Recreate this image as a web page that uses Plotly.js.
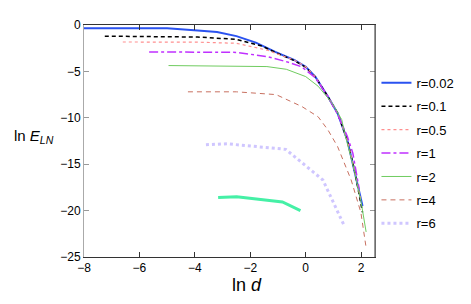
<!DOCTYPE html>
<html>
<head>
<meta charset="utf-8">
<script src="https://cdn.plot.ly/plotly-3.0.1.min.js"></script>
<style>html,body{margin:0;padding:0;background:#fff;}#chart{width:471px;height:304px;}</style>
</head>
<body>
<div id="chart"></div>
<script>
// r = 0.02
const x_r002 = [-8, -5, -3.9, -3.2, -2.5, -1.8, -1.1, -0.4, 0, 0.35, 0.8, 1.15, 1.5, 1.75, 2.05];
const y_r002 = [-0.35, -0.35, -0.6, -0.75, -1.2, -1.9, -2.9, -3.8, -4.5, -5.6, -7.7, -9.5, -12.4, -15.5, -19.5];
// r = 0.1
const x_r01 = [-7.25, -5, -3.9, -2.5, -1.55, -1.1, -0.4, 0, 0.35, 0.8, 1.15, 1.5, 1.75, 2.05];
const y_r01 = [-1.2, -1.25, -1.3, -1.55, -2.3, -2.95, -3.85, -4.55, -5.6, -7.7, -9.5, -12.4, -15.5, -20.2];
// r = 0.5
const x_r05 = [-6.6, -5, -3.9, -2.5, -1.4, -0.4, 0, 0.35, 0.8, 1.15, 1.5, 1.75, 2.0];
const y_r05 = [-1.83, -1.83, -1.85, -1.97, -2.7, -3.8, -4.5, -5.6, -7.7, -9.5, -12.4, -15.5, -19.0];
// r = 1
const x_r1 = [-5.65, -3.9, -2.5, -1.4, -0.7, -0.15, 0.35, 0.8, 1.15, 1.5, 1.7, 1.93];
const y_r1 = [-2.9, -2.9, -2.95, -3.4, -3.95, -4.5, -5.7, -7.7, -9.6, -12.0, -13.8, -17.7];
// r = 2
const x_r2 = [-4.95, -3.5, -2.5, -1.4, -0.7, 0, 0.45, 0.95, 1.3, 1.4, 1.75, 2.0, 2.18];
const y_r2 = [-4.37, -4.4, -4.4, -4.48, -4.77, -5.56, -6.6, -8.4, -10.2, -11.6, -15.6, -19.1, -22.3];
// r = 4
const x_r4 = [-4.25, -2.5, -1.07, -0.13, 0.45, 0.8, 1.15, 1.64, 1.99, 2.17];
const y_r4 = [-7.2, -7.2, -7.5, -8.8, -9.9, -11.3, -13.1, -16.7, -20.2, -23.8];
// r = 6
const x_r6 = [-3.6, -2.84, -0.72, 0.62, 1.4];
const y_r6 = [-12.9, -12.8, -13.4, -16.7, -21.7];
// unlabelled thick curve
const x_extra = [-3.16, -2.49, -0.84, -0.19];
const y_extra = [-18.6, -18.5, -19.07, -20.0];

const names = ['r=0.02', 'r=0.1', 'r=0.5', 'r=1', 'r=2', 'r=4', 'r=6'];

const traces = [
  {x: x_r002, y: y_r002, name: names[0], line: {color: '#2a52f0', width: 2, dash: 'solid'}},
  {x: x_r01, y: y_r01, name: names[1], line: {color: '#000000', width: 1.5, dash: '4px,3px'}},
  {x: x_r05, y: y_r05, name: names[2], line: {color: '#ff8f8f', width: 1.2, dash: 'dot'}},
  {x: x_r1, y: y_r1, name: names[3], line: {color: '#c030ff', width: 1.5, dash: 'dashdot'}},
  {x: x_r2, y: y_r2, name: names[4], line: {color: '#70cc60', width: 1, dash: 'solid'}},
  {x: x_r4, y: y_r4, name: names[5], line: {color: '#c87060', width: 1, dash: '5px,4px'}},
  {x: x_r6, y: y_r6, name: names[6], line: {color: '#cfc6ff', width: 3, dash: 'dot'}},
  {x: x_extra, y: y_extra, name: '', showlegend: false, line: {color: '#45f0a6', width: 3, dash: 'solid'}}
].map((t, i) => Object.assign({type: 'scatter', mode: 'lines', hoverinfo: 'skip', legendgroup: 'g' + i}, t));

const layout = {
  width: 471, height: 304,
  margin: {l: 84, r: 90, t: 25, b: 47},
  paper_bgcolor: '#fff', plot_bgcolor: '#fff',
  font: {family: 'Liberation Sans, Arial, sans-serif', size: 12, color: '#000'},
  showlegend: true,
  legend: {x: 1.005, y: 0.815, xanchor: 'left', yanchor: 'top', bgcolor: 'rgba(0,0,0,0)',
           font: {size: 13, color: '#000'}, itemwidth: 30, tracegroupgap: 3.5},
  xaxis: {range: [-8, 2.5], tickvals: [-8, -6, -4, -2, 0, 2], ticks: 'inside', ticklen: 5,
          tickcolor: '#333', showline: true, linecolor: '#333', linewidth: 1, mirror: 'ticks',
          showgrid: false, zeroline: false, tickfont: {size: 12}},
  yaxis: {range: [-25, 0], tickvals: [0, -5, -10, -15, -20, -25], ticks: 'inside', ticklen: 5,
          tickcolor: '#999', showline: true, linecolor: '#aaa', linewidth: 1, mirror: 'ticks',
          showgrid: false, zeroline: false, tickfont: {size: 12}, ticklabelstandoff: 0},
  shapes: [
    {type: 'line', xref: 'paper', yref: 'paper', x0: 1, x1: 1, y0: 0, y1: 1, line: {color: '#333', width: 1}}
  ],
  annotations: [
    {xref: 'paper', yref: 'paper', x: -0.095, y: 0.52, xanchor: 'right', yanchor: 'middle', showarrow: false,
     text: 'ln <i>E</i><sub><i>LN</i></sub>', font: {size: 15, color: '#000'}},
    {xref: 'paper', yref: 'paper', x: 0.56, y: -0.12, xanchor: 'center', yanchor: 'middle', showarrow: false,
     text: 'ln <i>d</i>', font: {size: 18, color: '#000'}}
  ]
};

Plotly.newPlot('chart', traces, layout, {displayModeBar: false, staticPlot: true});
</script>
</body>
</html>
